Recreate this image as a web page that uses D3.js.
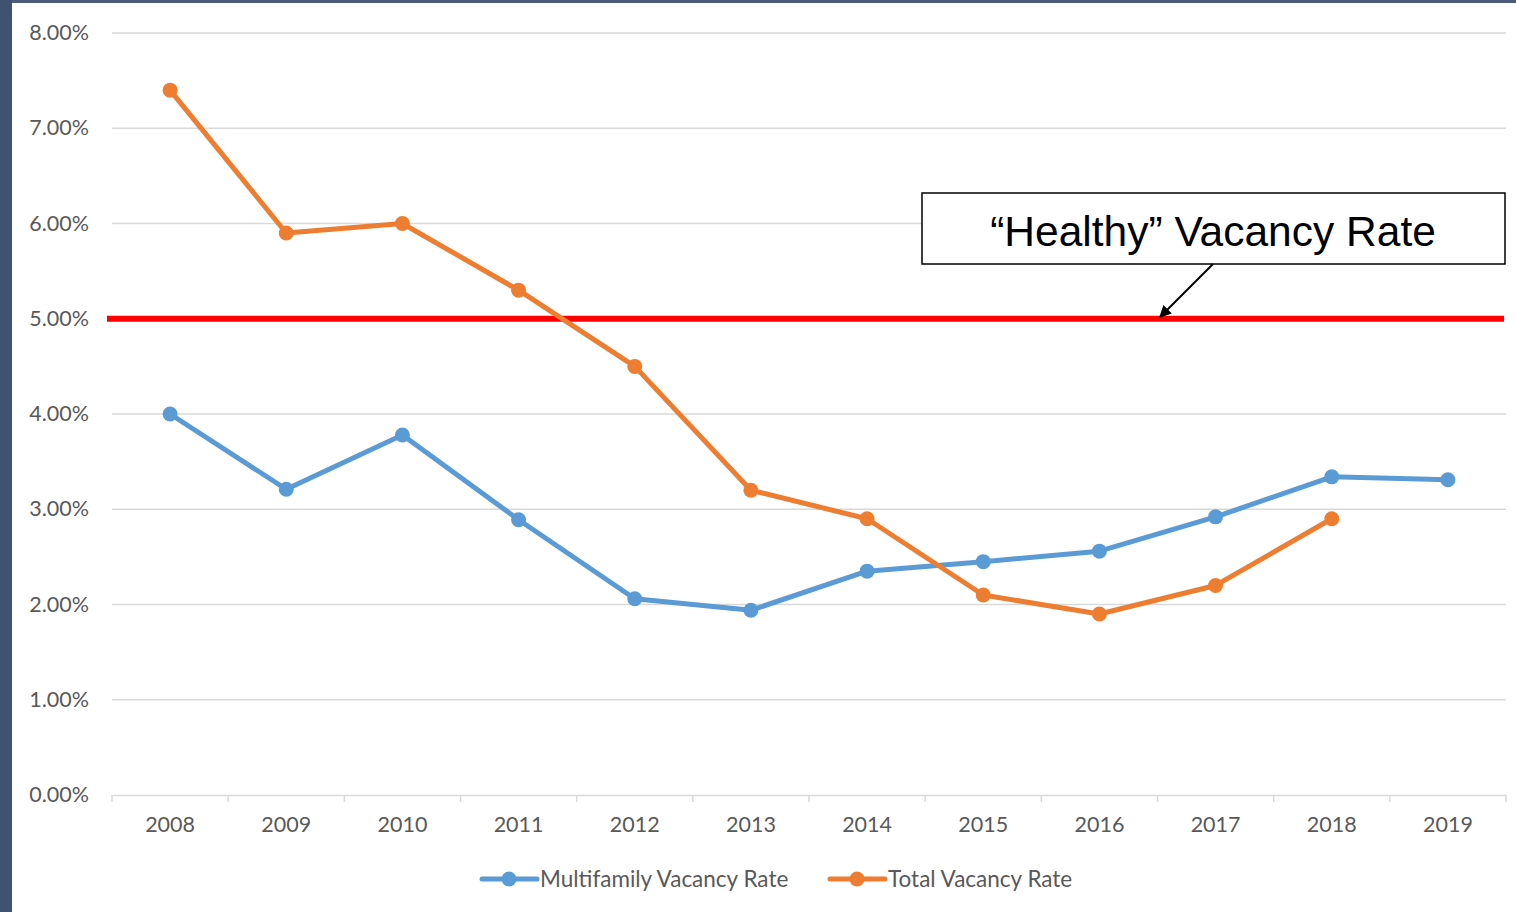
<!DOCTYPE html>
<head>
  <meta charset="utf-8">
  <script src="https://d3js.org/d3.v7.min.js"></script>
  <style>
    body { margin: 0; background: #fff; }
    svg text { font-family: Lato, "Open Sans", sans-serif; }
  </style>
</head>
<body>
<script>
  // chart values
  var years = ["2008", "2009", "2010", "2011", "2012", "2013", "2014", "2015", "2016", "2017", "2018", "2019"];
  var multifamily = [4.00, 3.21, 3.78, 2.89, 2.06, 1.94, 2.35, 2.45, 2.56, 2.92, 3.34, 3.31];
  var total = [7.40, 5.90, 6.00, 5.30, 4.50, 3.20, 2.90, 2.10, 1.90, 2.20, 2.90, null];
  var yTicks = [0, 1, 2, 3, 4, 5, 6, 7, 8];
  var healthyRate = 5;
  var seriesNames = ["Multifamily Vacancy Rate", "Total Vacancy Rate"];
  var seriesColors = ["#5b9bd5", "#ed7d31"];

  var width = 1516, height = 912;
  var margin = { top: 33, left: 112, right: 10, bottom: 117 };

  var svg = d3.select("body").append("svg")
    .attr("width", width)
    .attr("height", height);

  // frame of the slide
  svg.append("rect").attr("x", 0).attr("y", 0).attr("width", width).attr("height", 3).attr("fill", "#4a5c7a");
  svg.append("rect").attr("x", 0).attr("y", 0).attr("width", 12).attr("height", height).attr("fill", "#3f5270");

  var xScale = d3.scaleBand()
    .domain(years)
    .range([margin.left, width - margin.right]);

  var yScale = d3.scaleLinear()
    .domain([0, 8])
    .range([height - margin.bottom, margin.top]);

  // gridlines
  svg.append("g")
    .selectAll("line")
    .data(yTicks.slice(1))
    .enter().append("line")
    .attr("x1", margin.left)
    .attr("x2", width - margin.right)
    .attr("y1", function(d) { return yScale(d); })
    .attr("y2", function(d) { return yScale(d); })
    .attr("stroke", "#d9d9d9")
    .attr("stroke-width", 1.5);

  // y labels
  svg.append("g")
    .selectAll("text")
    .data(yTicks)
    .enter().append("text")
    .attr("x", 89)
    .attr("y", function(d) { return yScale(d) + 7; })
    .attr("text-anchor", "end")
    .attr("font-size", 21.5)
    .attr("fill", "#595959")
    .text(function(d) { return d.toFixed(2) + "%"; });

  // x axis
  var xAxis = d3.axisBottom(xScale).tickSize(0).tickPadding(22);
  var xg = svg.append("g")
    .attr("transform", "translate(0," + yScale(0) + ")")
    .call(xAxis);
  xg.select(".domain").attr("stroke", "#d9d9d9").attr("stroke-width", 1.5);
  xg.selectAll(".tick text").attr("font-size", 21.5).attr("fill", "#595959")
    .attr("font-family", "Lato, 'Open Sans', sans-serif");
  var bounds = years.map(function(y) { return xScale(y); }).concat([xScale.range()[1]]);
  xg.selectAll(".bound")
    .data(bounds)
    .enter().append("line")
    .attr("x1", function(d) { return d; })
    .attr("x2", function(d) { return d; })
    .attr("y1", 0)
    .attr("y2", 7)
    .attr("stroke", "#d9d9d9")
    .attr("stroke-width", 1.5);

  // healthy rate line
  svg.append("line")
    .attr("x1", 107)
    .attr("x2", 1504)
    .attr("y1", yScale(healthyRate))
    .attr("y2", yScale(healthyRate))
    .attr("stroke", "#ff0000")
    .attr("stroke-width", 6);

  var xPos = function(i) { return xScale(years[i]) + xScale.bandwidth() / 2; };

  [multifamily, total].forEach(function(values, s) {
    var line = d3.line()
      .defined(function(d) { return d !== null; })
      .x(function(d, i) { return xPos(i); })
      .y(function(d) { return yScale(d); });

    svg.append("path")
      .datum(values)
      .attr("d", line)
      .attr("fill", "none")
      .attr("stroke", seriesColors[s])
      .attr("stroke-width", 5)
      .attr("stroke-linejoin", "round")
      .attr("stroke-linecap", "round");

    svg.append("g")
      .selectAll("circle")
      .data(values.map(function(v, i) { return { v: v, i: i }; }).filter(function(d) { return d.v !== null; }))
      .enter().append("circle")
      .attr("cx", function(d) { return xPos(d.i); })
      .attr("cy", function(d) { return yScale(d.v); })
      .attr("r", 7.5)
      .attr("fill", seriesColors[s]);
  });

  // annotation
  svg.append("defs").append("marker")
    .attr("id", "arrow")
    .attr("viewBox", "0 0 10 10")
    .attr("refX", 9).attr("refY", 5)
    .attr("markerWidth", 15).attr("markerHeight", 12)
    .attr("markerUnits", "userSpaceOnUse")
    .attr("orient", "auto")
    .append("path").attr("d", "M0,0 L10,5 L0,10 z").attr("fill", "#000");

  svg.append("rect")
    .attr("x", 922).attr("y", 193)
    .attr("width", 583).attr("height", 71)
    .attr("fill", "#fff")
    .attr("stroke", "#000")
    .attr("stroke-width", 1.5);

  svg.append("text")
    .attr("x", 1213).attr("y", 246)
    .attr("text-anchor", "middle")
    .attr("font-size", 42.5)
    .style("font-family", "'Liberation Sans', Arial, sans-serif")
    .attr("fill", "#000")
    .text("\u201CHealthy\u201D Vacancy Rate");

  svg.append("line")
    .attr("x1", 1213).attr("y1", 264)
    .attr("x2", 1160).attr("y2", 317)
    .attr("stroke", "#000")
    .attr("stroke-width", 2)
    .attr("marker-end", "url(#arrow)");

  // legend
  var legendX = [482, 830];
  seriesNames.forEach(function(name, s) {
    var g = svg.append("g").attr("transform", "translate(" + legendX[s] + ",879)");
    g.append("line").attr("x1", 0).attr("x2", 55).attr("y1", 0).attr("y2", 0)
      .attr("stroke", seriesColors[s]).attr("stroke-width", 5).attr("stroke-linecap", "round");
    g.append("circle").attr("cx", 27).attr("cy", 0).attr("r", 7.5).attr("fill", seriesColors[s]);
    g.append("text").attr("x", 58).attr("y", 8)
      .attr("font-size", 22.5).attr("fill", "#595959").text(name);
  });
</script>
</body>
